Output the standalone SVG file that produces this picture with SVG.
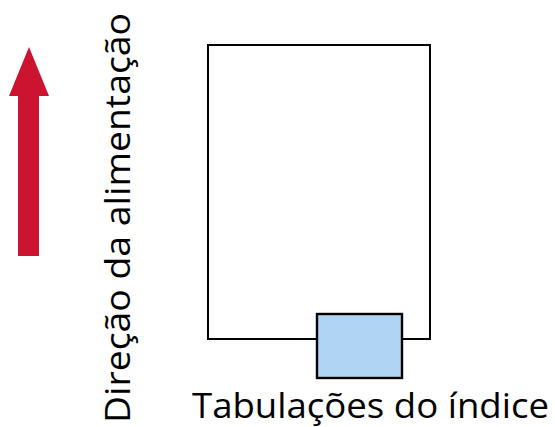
<svg xmlns="http://www.w3.org/2000/svg" width="555" height="427" viewBox="0 0 555 427">
<style>
.lbl{font-family:"Open Sans","Noto Sans","Liberation Sans",sans-serif;font-size:35px;fill:#000}
.ln{fill:none;stroke:#000;stroke-width:2}
</style>
<rect width="555" height="427" fill="#fff"/>
<g id="arrow">
<polygon points="29,47 49,96 39,96 39,256 18,256 18,96 9,96" fill="#CC1430"/>
</g>
<g id="feed-label">
<text class="lbl" transform="translate(130,423) rotate(-90)" x="0" y="0" textLength="410" lengthAdjust="spacingAndGlyphs">Direção da alimentação</text>
</g>
<g id="sheet">
<polyline class="ln" points="316,339 208,339 208,45 430,45 430,339 402,339"/>
</g>
<g id="tab">
<rect x="317" y="314" width="85" height="64" fill="#B0D4F3" stroke="#000" stroke-width="2.4"/>
</g>
<g id="tab-label">
<text class="lbl" x="192" y="418" textLength="357" lengthAdjust="spacingAndGlyphs">Tabulações do índice</text>
</g>
</svg>
